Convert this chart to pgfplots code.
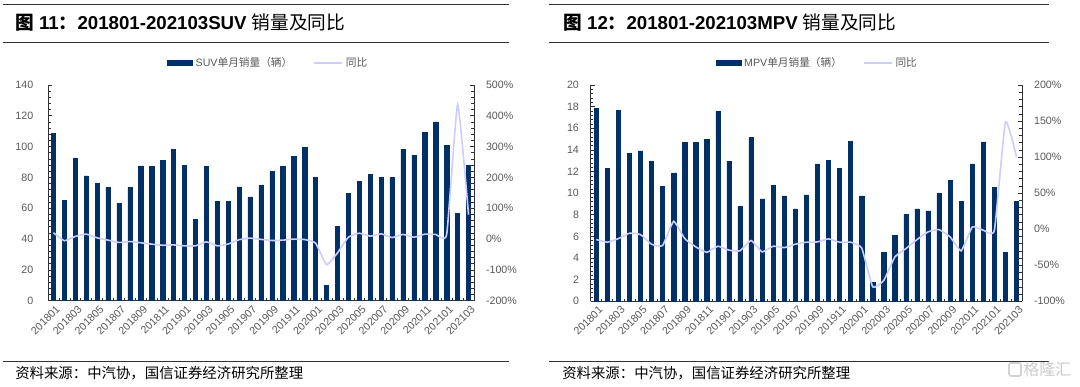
\documentclass[border=0pt]{standalone}
\usepackage{fontspec}
\setmainfont{Liberation Sans}
\newfontfamily\cjk{Noto Sans CJK SC}
\usepackage{pgfplots}
\usepackage{pgfplotstable}
\pgfplotsset{compat=1.18}
\definecolor{barblue}{RGB}{0,48,102}
\definecolor{linelav}{RGB}{204,204,255}
\definecolor{tickgray}{RGB}{89,89,89}
\definecolor{rulegray}{RGB}{50,50,50}

\pgfplotstableread{
idx suv suvyoy mpv mpvyoy
0 108.5 20.5 17.87 -14.3
1 65.0 -5.5 12.28 -18
2 92.3 8.5 17.65 -13
3 81.0 16 13.70 -5.6
4 76.0 4 13.90 -7.4
5 73.6 -3.5 12.93 -20.8
6 63.2 -11 10.65 -22.7
7 73.6 -8 11.88 11
8 87.5 -12 14.69 -13
9 87.3 -16.5 14.72 -24.5
10 91.2 -20 15.00 -32
11 98.3 -19 17.59 -23.6
12 88.0 -22 12.96 -29
13 53.0 -22 8.80 -30
14 87.0 -9 15.15 -15.7
15 64.7 -22 9.47 -31.5
16 64.3 -16 10.74 -23.6
17 73.8 -2 9.75 -25.5
18 67.3 3 8.55 -20.8
19 74.7 -1 9.84 -18
20 84.0 -4.6 12.71 -17.6
21 87.2 -3.5 13.02 -13.4
22 93.8 0 12.31 -18
23 99.4 -1.6 14.81 -18
24 80.0 -13 9.75 -26
25 9.8 -83 1.76 -80
26 48.4 -45 4.50 -71
27 69.5 6 6.08 -38.5
28 77.5 19 8.05 -26.9
29 82.0 9.5 8.55 -14.4
30 79.9 17 8.36 -3.7
31 79.9 5 9.97 -0.5
32 98.3 15 11.17 -10.7
33 94.4 6 9.26 -30
34 109.4 16 12.71 3.2
35 116.1 15 14.75 -1.4
36 100.7 15 10.55 -1.4
37 56.7 437 4.50 149
38 87.9 79 9.26 100.4
}\datatable

\pgfplotsset{
  panel/.style={
    scale only axis, xmin=-0.5, xmax=38.5,
    tick align=inside, major tick length=3pt, minor tick length=2pt,
    /pgf/number format/assume math mode=true,
    tick label style={font=\fontsize{8}{9}\selectfont, text=tickgray},
    axis line style={rulegray, line width=0.6pt},
    tick style={rulegray, line width=0.5pt},
    minor y tick num=4,
  },
  barax/.style={
    panel, axis y line*=left, axis x line*=bottom, ymin=0,
    xtick={0,2,...,38},
    xticklabels={201801,201803,201805,201807,201809,201811,201901,201903,201905,201907,201909,201911,202001,202003,202005,202007,202009,202011,202101,202103},
    minor xtick={-0.5,0.5,...,38.5},
    major x tick style={draw=none},
    x tick label style={rotate=45, anchor=north east, inner sep=1pt, yshift=-2pt},
    legend style={draw=none, fill=none, legend columns=2,
      font=\fontsize{8}{9}\selectfont, text=tickgray,
      /tikz/every even column/.append style={column sep=14pt}},
  },
  lineax/.style={
    panel, axis y line*=right, axis x line=none,
    yticklabel={\pgfmathprintnumber{\tick}\%},
    yticklabel style={anchor=west, xshift=5.5pt},
  },
}

\begin{document}
\begin{tikzpicture}[x=0.75pt,y=0.75pt]
\path[use as bounding box] (0,0) rectangle (1080,386);

% ---------- Left panel ----------
\draw[rulegray, line width=0.75pt] (3,381) -- (509,381);
\draw[rulegray, line width=0.75pt] (3,343) -- (509,343);
\draw[rulegray, line width=0.75pt] (3,24.3) -- (509,24.3);
\node[anchor=base west, inner sep=0pt] at (15,356) {\fontsize{14}{16}\selectfont\bfseries{\cjk 图} 11{\cjk ：}201801-202103SUV {\cjk\mdseries 销量及同比}};
\node[anchor=base west, inner sep=0pt] at (15,8) {\fontsize{10.8}{12}\selectfont\cjk 资料来源：中汽协，国信证券经济研究所整理};

\begin{axis}[barax, at={(36pt,63.975pt)}, anchor=south west, width=319.5pt, height=161.8pt,
  ymax=140, ytick={0,20,...,140}, yticklabel style={xshift=-7.5pt},
  legend style={at={(0.5176,1.102)}, anchor=center}]
\addplot[ybar, bar width=3.2pt, fill=barblue, draw=barblue,
  legend image code/.code={\fill[barblue] (0pt,-2pt) rectangle (19pt,2pt);}]
  table[x=idx, y=suv]{\datatable};
\addlegendentry{SUV{\cjk 单月销量（辆）}}
\addlegendimage{linelav, line width=1.2pt, legend image code/.code={\draw[linelav, line width=1.2pt] (0pt,0pt) -- (21pt,0pt);}}
\addlegendentry{{\cjk 同比}}
\end{axis}
\begin{axis}[lineax, at={(36pt,63.975pt)}, anchor=south west, width=319.5pt, height=161.8pt,
  ymin=-200, ymax=500, ytick={-200,-100,...,500}]
\addplot[linelav, line width=1.2pt, smooth, tension=0.25, no markers]
  table[x=idx, y=suvyoy]{\datatable};
\end{axis}

% ---------- Right panel ----------
\draw[rulegray, line width=0.75pt] (549,381) -- (1049,381);
\draw[rulegray, line width=0.75pt] (549,343) -- (1049,343);
\draw[rulegray, line width=0.75pt] (549,24.3) -- (1049,24.3);
\node[anchor=base west, inner sep=0pt] at (563,356) {\fontsize{14}{16}\selectfont\bfseries{\cjk 图} 12{\cjk ：}201801-202103MPV {\cjk\mdseries 销量及同比}};
\node[anchor=base west, inner sep=0pt] at (562,8) {\fontsize{10.8}{12}\selectfont\cjk 资料来源：中汽协，国信证券经济研究所整理};

\begin{axis}[barax, at={(443.025pt,63.525pt)}, anchor=south west, width=323.5pt, height=162.2pt,
  ymax=20, ytick={0,2,...,20}, yticklabel style={xshift=-5.3pt},
  legend style={at={(0.526,1.102)}, anchor=center}]
\addplot[ybar, bar width=3.2pt, fill=barblue, draw=barblue,
  legend image code/.code={\fill[barblue] (0pt,-2pt) rectangle (19pt,2pt);}]
  table[x=idx, y=mpv]{\datatable};
\addlegendentry{MPV{\cjk 单月销量（辆）}}
\addlegendimage{linelav, line width=1.2pt, legend image code/.code={\draw[linelav, line width=1.2pt] (0pt,0pt) -- (21pt,0pt);}}
\addlegendentry{{\cjk 同比}}
\end{axis}
\begin{axis}[lineax, at={(443.025pt,63.525pt)}, anchor=south west, width=323.5pt, height=162.2pt,
  ymin=-100, ymax=200, ytick={-100,-50,...,200}]
\addplot[linelav, line width=1.2pt, smooth, tension=0.25, no markers]
  table[x=idx, y=mpvyoy]{\datatable};
\end{axis}

% watermark
\draw[gray!35, line width=1.2pt, rounded corners=1.5pt] (1009,10) rectangle (1021,23);
\node[anchor=west, inner sep=0pt, text=gray!40] at (1023,16.5) {\fontsize{12}{13}\selectfont\cjk 格隆汇};
\end{tikzpicture}
\end{document}
